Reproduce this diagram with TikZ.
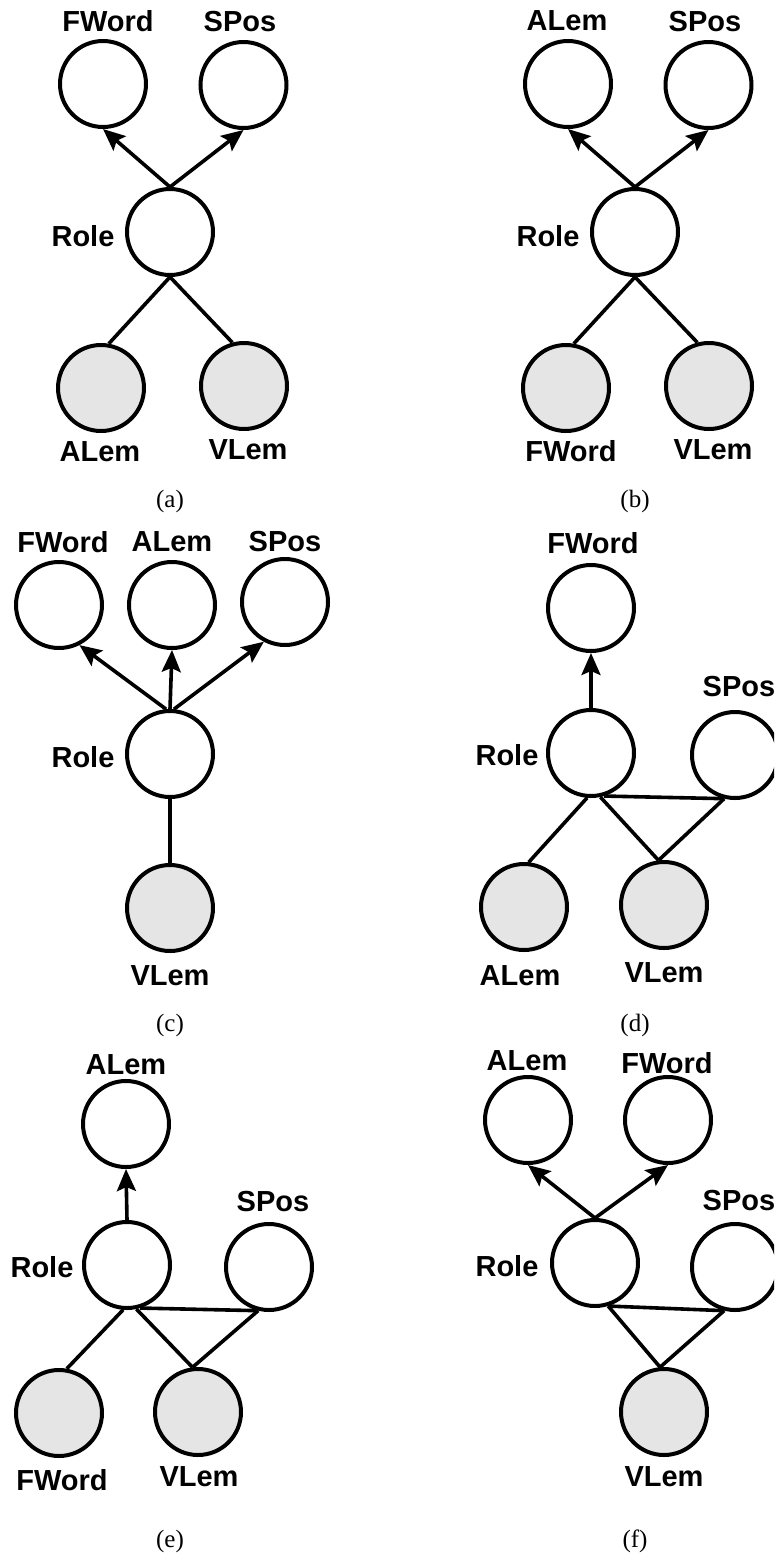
\documentclass[tikz,border=0pt]{standalone}
\usepackage{fontspec}
\setmainfont{Liberation Serif}
\setsansfont{Liberation Sans}
\usetikzlibrary{arrows.meta}
\tikzset{
  var/.style={circle, draw, line width=4pt, minimum size=86pt, inner sep=0pt, fill=white},
  obs/.style={var, fill=black!10},
  lbl/.style={font=\sffamily\bfseries\fontsize{29}{32}\selectfont, inner sep=0pt},
  subcap/.style={font=\rmfamily\fontsize{25}{28}\selectfont, inner sep=0pt},
  dep/.style={line width=3.6pt, -{Stealth[length=22pt,width=19pt,inset=4pt]}},
  link/.style={line width=3.6pt},
}
\begin{document}
\begin{tikzpicture}[x=1pt,y=-1pt]
\useasboundingbox (0,0) rectangle (774,1561);
\clip (0,0) rectangle (774,1561);

% ---------- (a) ----------
\node[var] (a-fw) at (103,84) {};
\node[var] (a-sp) at (243.5,85) {};
\node[var] (a-role) at (170,232) {};
\node[obs] (a-al) at (101,388) {};
\node[obs] (a-vl) at (244,386) {};
\node[lbl] (a-fwl) at (108,21) {FWord};
\node[lbl] (a-spl) at (240,22) {SPos};
\node[lbl] (a-rolel) at (83,236) {Role};
\node[lbl] (a-all) at (100,452) {ALem};
\node[lbl] (a-vll) at (248,450) {VLem};
\node[subcap] (a-cap) at (170,501) {(a)};
\draw[dep] (a-role.north) -- (a-fw.south);
\draw[dep] (a-role.north) -- (a-sp.south);
\draw[link] (a-role.south) -- (a-al.80);
\draw[link] (a-role.south) -- (a-vl.105);

% ---------- (b) ----------
\node[var] (b-al) at (568,84) {};
\node[var] (b-sp) at (708.5,85) {};
\node[var] (b-role) at (635,232) {};
\node[obs] (b-fw) at (566,388) {};
\node[obs] (b-vl) at (709,386) {};
\node[lbl] (b-all) at (567,21) {ALem};
\node[lbl] (b-spl) at (705,22) {SPos};
\node[lbl] (b-rolel) at (548,236) {Role};
\node[lbl] (b-fwl) at (571,451) {FWord};
\node[lbl] (b-vll) at (713,450) {VLem};
\node[subcap] (b-cap) at (635,501) {(b)};
\draw[dep] (b-role.north) -- (b-al.south);
\draw[dep] (b-role.north) -- (b-sp.south);
\draw[link] (b-role.south) -- (b-fw.80);
\draw[link] (b-role.south) -- (b-vl.105);

% ---------- (c) ----------
\node[var] (c-fw) at (59,605) {};
\node[var] (c-al) at (172,605) {};
\node[var] (c-sp) at (285,602) {};
\node[var] (c-role) at (170,754) {};
\node[obs] (c-vl) at (170,908) {};
\node[lbl] (c-fwl) at (63,542) {FWord};
\node[lbl] (c-all) at (172,542) {ALem};
\node[lbl] (c-spl) at (285,542) {SPos};
\node[lbl] (c-rolel) at (83,757) {Role};
\node[lbl] (c-vll) at (170,976) {VLem};
\node[subcap] (c-cap) at (170,1025) {(c)};
\draw[dep] (c-role.95) -- (c-fw.297);
\draw[dep] (c-role.north) -- (c-al.south);
\draw[dep] (c-role.85) -- (c-sp.242);
\draw[link] (c-role.south) -- (c-vl.north);

% ---------- (d) ----------
\node[var] (d-fw) at (591,608) {};
\node[var] (d-role) at (591,753) {};
\node[var] (d-sp) at (735,755) {};
\node[obs] (d-al) at (524,907) {};
\node[obs] (d-vl) at (664,905) {};
\node[lbl] (d-fwl) at (593,543) {FWord};
\node[lbl] (d-rolel) at (507,755) {Role};
\node[lbl] (d-spl) at (739,687) {SPos};
\node[lbl] (d-all) at (520,976) {ALem};
\node[lbl] (d-vll) at (664,973) {VLem};
\node[subcap] (d-cap) at (635,1025) {(d)};
\draw[dep] (d-role.north) -- (d-fw.south);
\draw[link] (d-role.-95) -- (d-al.84);
\draw[link] (d-role.-78) -- (d-vl.97);
\draw[link] (d-role.-73) -- (d-sp.-104);
\draw[link] (d-sp.-104) -- (d-vl.97);

% ---------- (e) ----------
\node[var] (e-al) at (126,1124) {};
\node[var] (e-role) at (127,1265) {};
\node[var] (e-sp) at (269,1267) {};
\node[obs] (e-fw) at (59,1413) {};
\node[obs] (e-vl) at (198,1412) {};
\node[lbl] (e-all) at (126,1065) {ALem};
\node[lbl] (e-rolel) at (42,1267) {Role};
\node[lbl] (e-spl) at (273,1202) {SPos};
\node[lbl] (e-fwl) at (62,1480) {FWord};
\node[lbl] (e-vll) at (199,1477) {VLem};
\node[subcap] (e-cap) at (170,1541) {(e)};
\draw[dep] (e-role.north) -- (e-al.south);
\draw[link] (e-role.-95) -- (e-fw.80);
\draw[link] (e-role.-78) -- (e-vl.97);
\draw[link] (e-role.-73) -- (e-sp.-104);
\draw[link] (e-sp.-104) -- (e-vl.97);

% ---------- (f) ----------
\node[var] (f-al) at (528,1120) {};
\node[var] (f-fw) at (668,1120) {};
\node[var] (f-role) at (595,1263) {};
\node[var] (f-sp) at (735,1267) {};
\node[obs] (f-vl) at (664,1412) {};
\node[lbl] (f-all) at (527,1061) {ALem};
\node[lbl] (f-fwl) at (667,1063) {FWord};
\node[lbl] (f-rolel) at (507,1266) {Role};
\node[lbl] (f-spl) at (739,1201) {SPos};
\node[lbl] (f-vll) at (664,1477) {VLem};
\node[subcap] (f-cap) at (635,1541) {(f)};
\draw[dep] (f-role.north) -- (f-al.south);
\draw[dep] (f-role.north) -- (f-fw.south);
\draw[link] (f-role.-73) -- (f-sp.-104);
\draw[link] (f-role.-73) -- (f-vl.95);
\draw[link] (f-sp.-104) -- (f-vl.95);
\end{tikzpicture}
\end{document}
